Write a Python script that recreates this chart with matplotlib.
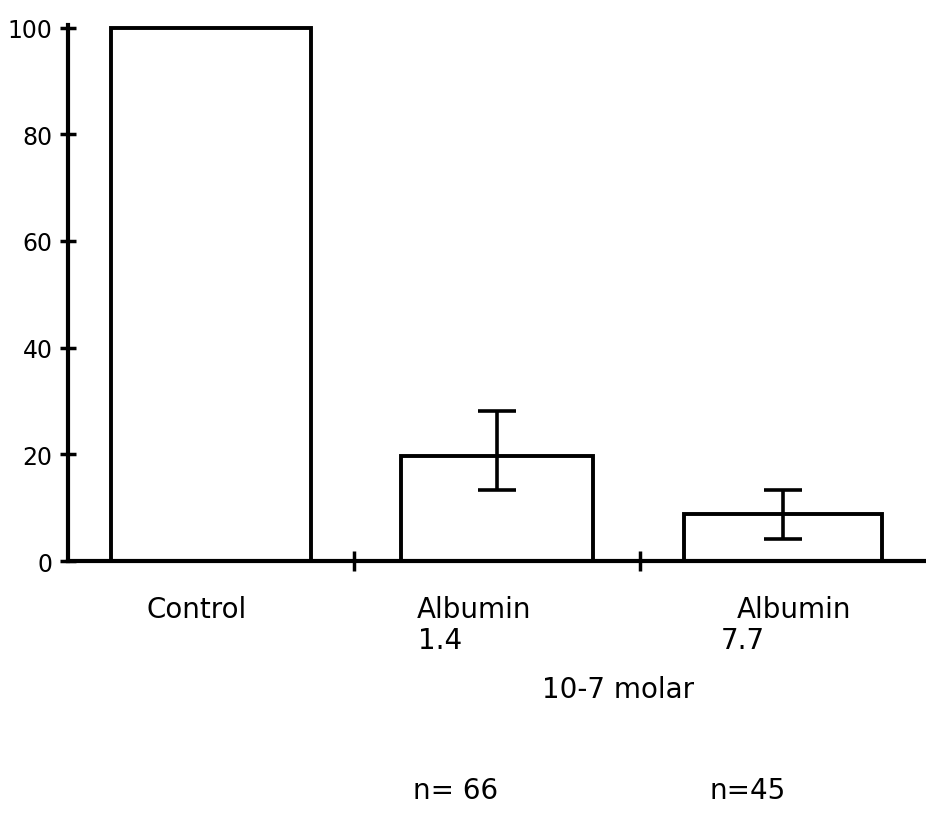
import numpy as np
import matplotlib
matplotlib.use("Agg")
import matplotlib.pyplot as plt
from matplotlib.transforms import blended_transform_factory

# Data
groups = ["Control", "Albumin", "Albumin"]
doses = ["", "1.4", "7.7"]
values = [100, 19.7, 8.8]
err_low = [0, 6.3, 4.6]
err_high = [0, 8.4, 4.6]
widths = [0.70, 0.67, 0.69]
n_labels = ["", "n= 66", "n=45"]
unit_label = "10-7 molar"
yticks = [0, 20, 40, 60, 80, 100]

plt.rcParams['font.family'] = ['DejaVu Sans']

fig = plt.figure(figsize=(9.26, 8.28), dpi=100)
W, H = 926, 828
ax = fig.add_axes([68 / W, 1 - 562 / H, 1 - 68 / W, (562 - 26) / H])

x = np.arange(len(groups))
ax.bar(x, values, width=widths, color='white', edgecolor='black', linewidth=2.8, zorder=2)
ax.errorbar(x[1:], values[1:], yerr=[err_low[1:], err_high[1:]], fmt='none',
            ecolor='black', elinewidth=2.6, capsize=14, capthick=2.6, zorder=3)

ax.set_xlim(-0.5, 2.5)
ax.set_ylim(0, 100.5)

for s in ['top', 'right']:
    ax.spines[s].set_visible(False)
ax.spines['left'].set_linewidth(3)
ax.spines['bottom'].set_linewidth(3)

ax.set_yticks(yticks)
ax.tick_params(axis='y', direction='inout', length=12, width=2.5, labelsize=17, pad=5)
ax.set_xticks([0.5, 1.5])
ax.set_xticklabels([])
ax.tick_params(axis='x', direction='inout', length=15, width=2.5)

# labels below the axis (x in data units, y in figure fraction)
trans = blended_transform_factory(ax.transData, fig.transFigure)
name_x = [-0.05, 0.92, 2.04]
dose_x = [0, 0.80, 1.86]
for i in range(len(groups)):
    ax.text(name_x[i], 1 - 610 / H, groups[i], transform=trans,
            ha='center', va='center', fontsize=20)
    if doses[i]:
        ax.text(dose_x[i], 1 - 641 / H, doses[i], transform=trans,
                ha='center', va='center', fontsize=20)

fig.text(618 / W, 1 - 690 / H, unit_label, ha='center', va='center', fontsize=20)
n_x = [0, 456, 748]
for px, lab in zip(n_x, n_labels):
    if lab:
        fig.text(px / W, 1 - 791 / H, lab, ha='center', va='center', fontsize=20)

fig.savefig("out.png", dpi=100)
